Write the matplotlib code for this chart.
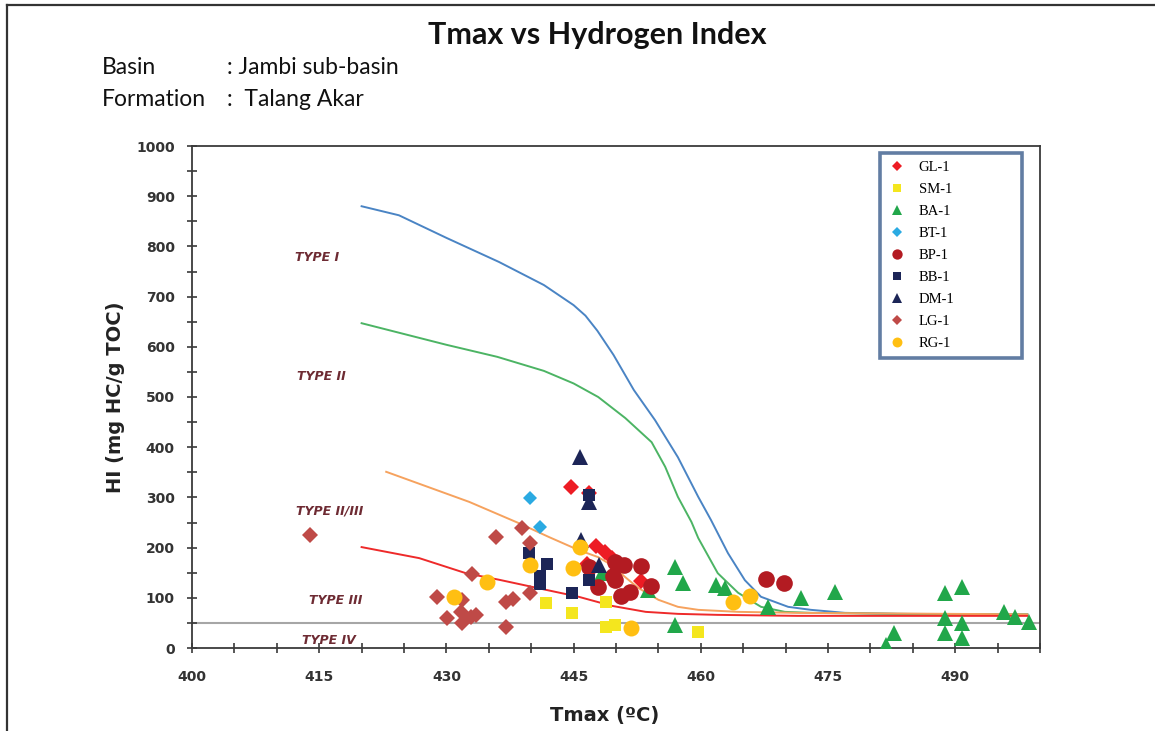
import matplotlib
matplotlib.use("Agg")
import matplotlib.pyplot as plt
from matplotlib.ticker import MultipleLocator
from matplotlib.lines import Line2D

# ---------------- data ----------------
title = "Tmax vs Hydrogen Index"
basin_label, basin_value = "Basin", ": Jambi sub-basin"
formation_label, formation_value = "Formation", ":  Talang Akar"

# kerogen type boundary curves
type1_x = [420.0, 424.4, 430.0, 436.2, 441.5, 445.0, 446.4, 447.8, 449.7, 452.1, 454.6, 457.3, 459.7, 461.2, 463.2, 465.2, 467.1, 470.3, 473.0, 477.0, 483.2, 490.2, 498.5]
type1_y = [880, 862, 817, 769, 723, 683, 662, 632, 584, 514, 454, 380, 301, 255, 189, 135, 102, 82, 76, 70, 68, 67, 67]
type2_x = [420.0, 430.0, 436.0, 441.5, 445.0, 447.9, 451.1, 454.2, 455.8, 457.3, 458.9, 459.7, 462.0, 464.4, 467.1, 469.9, 473.0, 483.2, 498.5]
type2_y = [647, 604, 580, 552, 527, 500, 458, 410, 361, 301, 251, 219, 149, 110, 82, 72, 70, 68, 67]
type23_x = [422.9, 432.7, 438.5, 442.1, 445.6, 447.9, 449.5, 451.1, 452.6, 455.0, 457.3, 459.7, 464.4, 471.4, 498.5]
type23_y = [351, 291, 249, 221, 195, 181, 165, 141, 120, 96, 82, 76, 72, 70, 67]
type3_x = [420.0, 426.8, 432.3, 436.2, 441.7, 445.6, 449.5, 453.5, 457.3, 462.0, 471.4, 498.5]
type3_y = [201, 179, 149, 136, 116, 102, 84, 72, 68, 66, 64, 64]
type4_hi = 50

type_labels = ["TYPE I", "TYPE II", "TYPE II/III", "TYPE III", "TYPE IV"]
type_label_x = [414.8, 415.2, 416.2, 416.9, 416.1]
type_label_y = [777, 540, 273, 94, 14]

well_names = ["GL-1", "SM-1", "BA-1", "BT-1", "BP-1", "BB-1", "DM-1", "LG-1", "RG-1"]

gl1_tmax = [444.7, 446.8, 447.7, 448.7, 449.5, 446.6, 452.9]
gl1_hi = [321, 309, 203, 191, 179, 167, 133]
sm1_tmax = [441.8, 444.8, 448.8, 448.8, 449.9, 459.7]
sm1_hi = [90, 70, 92, 42, 46, 32]
ba1_tmax = [448.3, 453.8, 457.0, 457.9, 457.0, 461.8, 462.9, 467.9, 471.8, 475.8, 481.8, 482.8,
            488.8, 490.8, 488.8, 490.8, 488.8, 490.8, 495.8, 497.0, 498.7]
ba1_hi = [149, 116, 161, 129, 46, 125, 120, 82, 100, 112, 5, 30,
          110, 122, 60, 50, 30, 20, 72, 62, 52]
bt1_tmax = [439.9, 441.0]
bt1_hi = [299, 241]
bp1_tmax = [446.8, 447.9, 449.9, 451.0, 449.6, 452.9, 450.6, 451.6, 454.1, 449.9, 467.7, 469.8]
bp1_hi = [161, 122, 171, 166, 143, 163, 104, 111, 124, 136, 137, 130]
bb1_tmax = [439.7, 441.9, 441.0, 441.0, 444.8, 446.8, 446.8]
bb1_hi = [189, 167, 143, 127, 110, 304, 135]
dm1_tmax = [445.8, 446.8, 445.9, 448.0]
dm1_hi = [380, 291, 215, 165]
lg1_tmax = [413.9, 428.9, 430.1, 431.7, 431.8, 431.8, 432.9, 433.5, 433.0, 435.8, 438.9, 439.9,
            437.0, 437.9, 439.9, 437.0]
lg1_hi = [225, 102, 60, 72, 96, 50, 62, 66, 147, 222, 239, 209,
          92, 98, 110, 42]
rg1_tmax = [430.9, 434.8, 439.8, 444.9, 445.8, 451.8, 463.8, 465.8]
rg1_hi = [102, 131, 165, 160, 201, 40, 92, 104]

x_ticks_major = [400, 415, 430, 445, 460, 475, 490]

# ---------------- figure ----------------
W, H = 1155, 731
fig = plt.figure(figsize=(W / 100, H / 100), dpi=100)
fig.patch.set_facecolor("white")

def fx(px):
    return px / W

def fy(py):
    return 1 - py / H

ax = fig.add_axes([fx(192), fy(648), (1040 - 192) / W, (648 - 146) / H])

# boundary curves
ax.plot(type1_x, type1_y, color="#4a84c4", lw=1.4, zorder=2)
ax.plot(type2_x, type2_y, color="#4cb464", lw=1.4, zorder=2)
ax.plot(type23_x, type23_y, color="#f6a25e", lw=1.4, zorder=2)
ax.plot(type3_x, type3_y, color="#ee2a2a", lw=1.4, zorder=2)
ax.axhline(type4_hi, color="#a6a6a6", lw=1.5, zorder=1)

for lab, tx, ty in zip(type_labels, type_label_x, type_label_y):
    ax.text(tx, ty, lab, ha="center", va="center", fontsize=9,
            fontweight="bold", style="italic", color="#6e2b33",
            family="DejaVu Sans", zorder=3)

series = [
    (gl1_tmax, gl1_hi, "D", "#ed1c24", 8.0),
    (sm1_tmax, sm1_hi, "s", "#f4e61e", 9.0),
    (ba1_tmax, ba1_hi, "^", "#21a74a", 11.0),
    (bt1_tmax, bt1_hi, "D", "#2aaae2", 7.5),
    (bp1_tmax, bp1_hi, "o", "#b31b22", 12.0),
    (bb1_tmax, bb1_hi, "s", "#1c2557", 9.0),
    (dm1_tmax, dm1_hi, "^", "#1c2557", 11.0),
    (lg1_tmax, lg1_hi, "D", "#bf4a47", 8.0),
    (rg1_tmax, rg1_hi, "o", "#ffbf12", 11.5),
]
handles = []
for i, ((xs, ys, mk, col, ms), name) in enumerate(zip(series, well_names)):
    ax.plot(xs, ys, linestyle="none", marker=mk, markersize=ms, color=col,
            markeredgewidth=0, zorder=4 + i)
    handles.append(Line2D([], [], linestyle="none", marker=mk, markersize=ms * 0.62,
                          color=col, markeredgewidth=0))

ax.set_xlim(400, 500)
ax.set_ylim(0, 1000)
ax.set_xticks(x_ticks_major)
ax.xaxis.set_minor_locator(MultipleLocator(5))
ax.yaxis.set_major_locator(MultipleLocator(100))
ax.yaxis.set_minor_locator(MultipleLocator(50))
ax.tick_params(which="both", direction="inout", length=7, width=1.2, color="#3a3a3a")
ax.tick_params(axis="x", which="major", pad=12)
ax.tick_params(axis="y", which="major", pad=9)
for lbl in ax.get_xticklabels() + ax.get_yticklabels():
    lbl.set_family("DejaVu Sans")
    lbl.set_fontweight("bold")
    lbl.set_fontsize(10)
    lbl.set_color("#333333")
for sp in ax.spines.values():
    sp.set_color("#3a3a3a")
    sp.set_linewidth(1.3)

ax.set_xlabel("Tmax (ºC)", fontsize=14, fontweight="bold", family="DejaVu Sans", color="#222222")
ax.set_ylabel("HI (mg HC/g TOC)", fontsize=14, fontweight="bold", family="DejaVu Sans", color="#222222")
ax.xaxis.set_label_coords(0.487, -0.116)
ax.yaxis.set_label_coords(-0.079, 0.5)

leg = ax.legend(handles, well_names, loc="upper left",
                bbox_to_anchor=(fx(880), fy(366), (1022 - 880) / W, (366 - 153) / H),
                bbox_transform=fig.transFigure, mode="expand", borderaxespad=0,
                frameon=True, fancybox=False, edgecolor="#3b5d8c",
                prop={"family": "Liberation Serif", "size": 10.5},
                labelspacing=0.6, handlelength=1.2, handletextpad=0.9, borderpad=0.55)
leg.get_frame().set_linewidth(2.6)
leg.set_zorder(20)

# titles
fig.text(fx(597), fy(35), title, ha="center", va="center", fontsize=22,
         fontweight="bold", family="Lato", color="#111111")
fig.text(fx(102), fy(68), basin_label, ha="left", va="center", fontsize=16.5, family="Lato", color="#111111")
fig.text(fx(227), fy(68), basin_value, ha="left", va="center", fontsize=16.5, family="Lato", color="#111111")
fig.text(fx(102), fy(100), formation_label, ha="left", va="center", fontsize=16.5, family="Lato", color="#111111")
fig.text(fx(227), fy(100), formation_value, ha="left", va="center", fontsize=16.5, family="Lato", color="#111111")

# outer frame lines
fig.add_artist(Line2D([fx(7), fx(7)], [fy(5), 0], transform=fig.transFigure, color="#333333", lw=1.6))
fig.add_artist(Line2D([fx(7), 1], [fy(5), fy(5)], transform=fig.transFigure, color="#333333", lw=1.6))

fig.savefig("out.png", dpi=100, facecolor="white")
